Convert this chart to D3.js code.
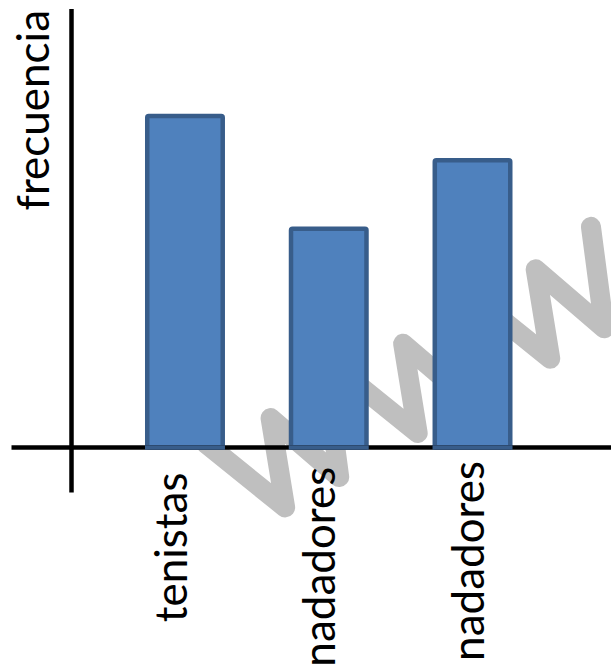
<!DOCTYPE html>
<html>
<head>
<meta charset="utf-8">
<script src="https://cdn.jsdelivr.net/npm/d3@7"></script>
<style>
  html, body { margin: 0; padding: 0; background: #ffffff; }
  svg { display: block; }
  text { font-family: Lato, "Open Sans", sans-serif; fill: #000; }
</style>
</head>
<body>
<div id="chart"></div>
<script>
// Sports groups and how often each one occurs
const categories = ["tenistas", "nadadores", "nadadores"];
const values = [15, 9.9, 13];
const yLabel = "frecuencia";
const watermarkText = "www";

const width = 611, height = 672;
const baseY = 447.5;

const svg = d3.select("#chart").append("svg")
  .attr("width", width)
  .attr("height", height);

const keys = categories.map((c, i) => i);

const x = d3.scaleBand()
  .domain(keys)
  .range([113.1, 544.4])
  .paddingInner(0.475)
  .paddingOuter(0.2375);

const y = d3.scaleLinear()
  .domain([0, 20])
  .range([baseY, baseY - 20 * 22.1]);

// Category labels sit on their own point scale (baseline x / text end y)
const labelX = d3.scalePoint().domain(keys).range([187, 483.5]);
const labelY = d3.scalePoint().domain(keys).range([472.5, 461]);

// Grey "www" watermark behind the chart: each letter is a stroked zigzag
const wm = svg.append("g")
  .attr("class", "watermark")
  .attr("transform", "translate(252,526) rotate(-29.3)");
const wShape = [[0, -95], [38, 0], [69, -85], [100, 0], [138, -95]];
wm.selectAll("path")
  .data(watermarkText.split(""))
  .join("path")
  .attr("transform", (d, i) => `translate(${i * 152},0)`)
  .attr("d", d3.line()(wShape))
  .attr("fill", "none")
  .attr("stroke", "#BFBFBF")
  .attr("stroke-width", 20)
  .attr("stroke-linejoin", "round")
  .attr("stroke-linecap", "round");

// Axes as plain lines
svg.append("line")
  .attr("x1", 71.5).attr("x2", 71.5)
  .attr("y1", 9).attr("y2", 492.5)
  .attr("stroke", "#000").attr("stroke-width", 4.5);

// Bars
svg.append("g").selectAll("rect")
  .data(values)
  .join("rect")
  .attr("x", (d, i) => x(i))
  .attr("y", d => y(d))
  .attr("width", x.bandwidth())
  .attr("height", d => baseY - y(d))
  .attr("fill", "#4F81BD")
  .attr("stroke", "#385D8A")
  .attr("stroke-width", 4.5)
  .attr("rx", 1.5);

svg.append("line")
  .attr("x1", 11.5).attr("x2", width)
  .attr("y1", baseY).attr("y2", baseY)
  .attr("stroke", "#000").attr("stroke-width", 4.5);

// redraw bars' bottom edges over axis
svg.append("g").selectAll("line")
  .data(values)
  .join("line")
  .attr("x1", (d, i) => x(i) - 2.25)
  .attr("x2", (d, i) => x(i) + x.bandwidth() + 2.25)
  .attr("y1", baseY).attr("y2", baseY)
  .attr("stroke", "#385D8A").attr("stroke-width", 4.5);

// Category labels, rotated to read upward
svg.append("g").selectAll("text")
  .data(categories)
  .join("text")
  .attr("transform", (d, i) => `translate(${labelX(i)},${labelY(i)}) rotate(-90)`)
  .attr("text-anchor", "end")
  .attr("font-size", 44)
  .text(d => d);

// Vertical axis title
svg.append("text")
  .attr("transform", "translate(49,10) rotate(-90)")
  .attr("text-anchor", "end")
  .attr("font-size", 44)
  .text(yLabel);
</script>
</body>
</html>
